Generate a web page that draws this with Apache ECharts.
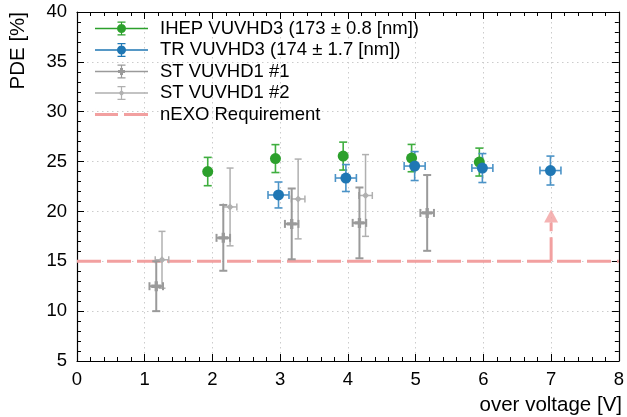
<!DOCTYPE html>
<html>
<head>
<meta charset="utf-8">
<script src="https://cdn.jsdelivr.net/npm/echarts@6/dist/echarts.min.js"></script>
<style>html,body{margin:0;padding:0;background:#fff;}#c{width:627px;height:417px;}</style>
</head>
<body>
<div id="c"></div>
<script>
// ---- data ----
const ihepX = [1.93, 2.93, 3.93, 4.94, 5.94];
const ihepY = [24.0, 25.3, 25.55, 25.35, 24.95];
const ihepYErr = [1.42, 1.4, 1.4, 1.37, 1.4];

const trX = [2.975, 3.97, 4.985, 5.985, 6.99];
const trY = [21.65, 23.35, 24.55, 24.35, 24.1];
const trXErr = [0.155, 0.155, 0.155, 0.155, 0.155];
const trYErr = [1.3, 1.35, 1.45, 1.45, 1.45];

const st1X = [1.17, 2.16, 3.17, 4.17, 5.17];
const st1Y = [12.5, 17.35, 18.75, 18.85, 19.85];
const st1XErr = [0.1, 0.1, 0.1, 0.1, 0.1];
const st1YErr = [2.5, 3.3, 3.55, 3.55, 3.8];

const st2X = [1.255, 2.26, 3.265, 4.26];
const st2Y = [15.15, 20.45, 21.25, 21.6];
const st2XErr = [0.1, 0.1, 0.1, 0.1];
const st2YErr = [2.85, 3.9, 4.0, 4.1];

const requirementPDE = 15;
const arrowX = 7;
const arrowTipY = 20.2;

const xTicks = [0, 8, 1];   // min, max, interval
const yTicks = [5, 40, 5];

const seriesNames = ['IHEP VUVHD3 (173 \u00b1 0.8 [nm])', 'TR VUVHD3 (174 \u00b1 1.7 [nm])', 'ST VUVHD1 #1', 'ST VUVHD1 #2', 'nEXO Requirement'];

// ---- build ----
const FONT = '"Liberation Sans", Arial, Helvetica, sans-serif';
function zip(xs, ys, xe, ye) {
  return xs.map((x, i) => [x, ys[i], xe ? xe[i] : 0, ye[i]]);
}
function errRender(color, lw, cap) {
  return function (params, api) {
    const x = api.value(0), y = api.value(1), xe = api.value(2), ye = api.value(3);
    const c = api.coord([x, y]);
    const t = api.coord([x, y + ye]);
    const b = api.coord([x, y - ye]);
    const st = { stroke: color, lineWidth: lw };
    const ch = [
      { type: 'line', shape: { x1: c[0], y1: t[1], x2: c[0], y2: b[1] }, style: st },
      { type: 'line', shape: { x1: c[0] - cap, y1: t[1], x2: c[0] + cap, y2: t[1] }, style: st },
      { type: 'line', shape: { x1: c[0] - cap, y1: b[1], x2: c[0] + cap, y2: b[1] }, style: st }
    ];
    if (xe > 0) {
      const l = api.coord([x - xe, y]), r = api.coord([x + xe, y]);
      ch.push({ type: 'line', shape: { x1: l[0], y1: c[1], x2: r[0], y2: c[1] }, style: st });
      ch.push({ type: 'line', shape: { x1: l[0], y1: c[1] - cap, x2: l[0], y2: c[1] + cap }, style: st });
      ch.push({ type: 'line', shape: { x1: r[0], y1: c[1] - cap, x2: r[0], y2: c[1] + cap }, style: st });
    }
    return { type: 'group', children: ch };
  };
}
function errSeries(name, data, color, lw, cap) {
  return {
    type: 'custom', name: name, data: data, renderItem: errRender(color, lw, cap),
    encode: { x: 0, y: 1 }, z: 3, silent: true, clip: false
  };
}
function markSeries(name, data, color, symbol, size) {
  return {
    type: 'scatter', name: name, data: data.map(d => [d[0], d[1]]), symbol: symbol, symbolSize: size,
    itemStyle: { color: color, opacity: 1 }, z: 4, silent: true
  };
}

const cGreen = '#2ca02c', cGreenErr = '#3fae3f';
const cBlue = '#1f77b4', cBlueErr = '#4b93c7';
const cG1 = '#9a9a9a', cG2 = '#b0b0b0';
const cPink = '#f2a0a0';

const plusPath = 'path://M3 0H6V3H9V6H6V9H3V6H0V3H3Z';
const baseIcon = 'M0 6.25H53V7.75H0Z M25.9 0H27.1V14H25.9Z M22.5 0H30.5V1.2H22.5Z M22.5 12.8H30.5V14H22.5Z ';
const iconCircle = 'path://' + baseIcon + 'M22 7A4.5 4.5 0 1 1 31 7A4.5 4.5 0 1 1 22 7Z';
const iconPlus = 'path://' + baseIcon + 'M23 5.5H25V3.5H28V5.5H30V8.5H28V10.5H25V8.5H23Z';
const iconDia = 'path://' + baseIcon + 'M26.5 4L29.5 7L26.5 10L23.5 7Z';
const iconDash = 'path://M0 0H0.01V14H0Z M0 5.5H23V8.5H0Z M29 5.5H52.99V8.5H29Z M52.99 0H53V14H52.99Z';

const ihepData = zip(ihepX, ihepY, null, ihepYErr);
const trData = zip(trX, trY, trXErr, trYErr);
const st1Data = zip(st1X, st1Y, st1XErr, st1YErr);
const st2Data = zip(st2X, st2Y, st2XErr, st2YErr);

const axisCommon = {
  type: 'value',
  axisLine: { show: true, onZero: false, lineStyle: { color: '#000', width: 1.2 } },
  axisTick: { show: true, inside: true, length: 7, lineStyle: { color: '#000', width: 1 } },
  minorTick: { show: true, splitNumber: 5, length: 4, lineStyle: { color: '#000', width: 1 } },
  axisLabel: { color: '#000', fontSize: 18.5, fontFamily: FONT }
};

const option = {
  animation: false,
  backgroundColor: '#fff',
  grid: { left: 77, right: 6, top: 12, bottom: 56, containLabel: false },
  xAxis: [
    Object.assign({}, axisCommon, {
      min: xTicks[0], max: xTicks[1], interval: xTicks[2], position: 'bottom',
      axisLabel: Object.assign({}, axisCommon.axisLabel, { margin: 9 }),
      splitLine: { show: true, lineStyle: { color: '#cccccc', type: [1.5, 3.5], width: 1 } }
    }),
    Object.assign({}, axisCommon, {
      min: xTicks[0], max: xTicks[1], interval: xTicks[2], position: 'top',
      axisLabel: { show: false }, splitLine: { show: false }
    })
  ],
  yAxis: [
    Object.assign({}, axisCommon, {
      min: yTicks[0], max: yTicks[1], interval: yTicks[2], position: 'left',
      axisLabel: Object.assign({}, axisCommon.axisLabel, { margin: 10 }),
      splitLine: { show: true, lineStyle: { color: '#cccccc', type: [1.5, 3.5], width: 1 } }
    }),
    Object.assign({}, axisCommon, {
      min: yTicks[0], max: yTicks[1], interval: yTicks[2], position: 'right',
      axisLabel: { show: false }, splitLine: { show: false }
    })
  ],
  legend: {
    orient: 'vertical', left: 95, top: 19, padding: 0,
    itemWidth: 53, itemHeight: 14, itemGap: 2.5,
    textStyle: { color: '#000', fontSize: 18.5, fontFamily: FONT, padding: [0, 0, 0, 7] },
    selectedMode: false,
    data: [
      { name: seriesNames[0], icon: iconCircle, itemStyle: { color: cGreen } },
      { name: seriesNames[1], icon: iconCircle, itemStyle: { color: cBlue } },
      { name: seriesNames[2], icon: iconPlus, itemStyle: { color: cG1 } },
      { name: seriesNames[3], icon: iconDia, itemStyle: { color: cG2 } },
      { name: seriesNames[4], icon: iconDash, itemStyle: { color: cPink } }
    ]
  },
  graphic: [
    { type: 'text', x: 18, y: 12, rotation: Math.PI / 2,
      style: { text: 'PDE [%]', fill: '#000', font: '20.5px ' + FONT, align: 'right', verticalAlign: 'middle' } },
    { type: 'text', x: 622, y: 405,
      style: { text: 'over voltage [V]', fill: '#000', font: '20.5px ' + FONT, align: 'right', verticalAlign: 'middle' } }
  ],
  series: [
    {
      type: 'line', name: seriesNames[4], data: [[xTicks[0], requirementPDE], [xTicks[1], requirementPDE]],
      symbol: 'none', showSymbol: false, z: 2, silent: true,
      lineStyle: { color: cPink, width: 3, type: [24, 6] }, itemStyle: { color: cPink }
    },
    {
      type: 'line', name: 'arrow', data: [[arrowX, requirementPDE], [arrowX, arrowTipY - 1.3]],
      symbol: 'none', showSymbol: false, z: 2, silent: true,
      lineStyle: { color: cPink, width: 3, type: [24, 6] }
    },
    {
      type: 'scatter', name: 'arrowhead', data: [[arrowX, arrowTipY - 0.65]], symbol: 'triangle',
      symbolSize: [14, 13], itemStyle: { color: cPink }, z: 2, silent: true
    },
    errSeries(seriesNames[3], st2Data, cG2, 1.5, 3.5),
    markSeries(seriesNames[3], st2Data, cG2, 'diamond', 7),
    errSeries(seriesNames[2], st1Data, cG1, 2, 4),
    markSeries(seriesNames[2], st1Data, cG1, plusPath, 10),
    errSeries(seriesNames[0], ihepData, cGreenErr, 1.6, 4),
    markSeries(seriesNames[0], ihepData, cGreen, 'circle', 11),
    errSeries(seriesNames[1], trData, cBlueErr, 1.6, 4),
    markSeries(seriesNames[1], trData, cBlue, 'circle', 11)
  ]
};
const chart = echarts.init(document.getElementById('c'), null, { renderer: 'canvas' });
chart.setOption(option);
</script>
</body>
</html>
